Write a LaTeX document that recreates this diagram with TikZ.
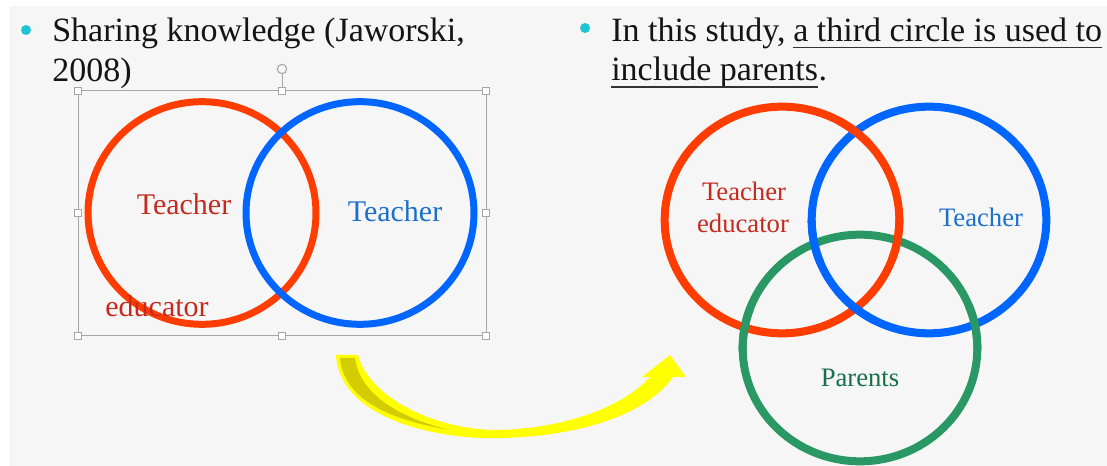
\documentclass[tikz,border=0pt]{standalone}
\usepackage{fontspec}
\setmainfont{Liberation Serif}
\usetikzlibrary{shapes.geometric,positioning}

\definecolor{slidebg}{HTML}{F6F6F6}
\definecolor{bulletcyan}{HTML}{1CC6D6}
\definecolor{ringred}{HTML}{FF3D00}
\definecolor{ringblue}{HTML}{0066FF}
\definecolor{ringgreen}{HTML}{2A9864}
\definecolor{redtxt}{HTML}{C42A1E}
\definecolor{bluetxt}{HTML}{1C70C8}
\definecolor{greentxt}{HTML}{17704A}
\definecolor{selgray}{HTML}{A6A6A6}
\definecolor{arrowyellow}{HTML}{FFFF00}
\definecolor{arrowshade}{HTML}{D2CC00}

\begin{document}
\begin{tikzpicture}[x=0.75pt,y=-0.75pt,
    ring/.style={draw, ellipse, inner sep=0pt, line width=6pt,
      minimum width=176pt, minimum height=170pt},
    smallring/.style={ring, line width=5.25pt,
      minimum width=171pt, minimum height=167pt},
    lap/.style={line width=6pt, x radius=88pt, y radius=85pt},
    handle/.style={draw=selgray, fill=white, inner sep=0pt,
      minimum size=5pt, line width=0.6pt},
    bullet/.style={circle, fill=bulletcyan, inner sep=0pt, minimum size=7.5pt},
    body/.style={anchor=base west, inner sep=0pt,
      font=\fontsize{25.5}{30}\selectfont, text=black!92},
    biglabel/.style={anchor=base, inner sep=0pt, font=\fontsize{22.5}{27}\selectfont},
    label/.style={anchor=base, inner sep=0pt, font=\fontsize{20}{24}\selectfont}]

    \useasboundingbox (0,0) rectangle (1107,466);
    \fill[white] (0,0) rectangle (1107,466);
    \fill[slidebg] (10,6) rectangle (1107,466);

    % left bullet
    \node[bullet] (b1) at (26,30) {};
    \node[body] (s1) at (52,42) {Sharing knowledge (Jaworski,};
    \node[body] (s2) at (52,82) {2008)};

    % right bullet
    \node[bullet] (b2) at (585,28) {};
    \node[body] (t1) at (611,42) {In this study,};
    \node[body] (t2) at (793,42) {a third circle is used to};
    \node[body] (t3) at (611,81) {include parents};
    \node[body, right=0pt of t3.base east, anchor=base west] (t4) {.};
    \draw[black!80, line width=0.9pt] ([yshift=-4pt]t2.base west) -- ([yshift=-4pt]t2.base east);
    \draw[black!80, line width=0.9pt] ([yshift=-4.5pt]t3.base west) -- ([yshift=-4.5pt]t3.base east);

    % selection frame round the old picture
    \draw[selgray, line width=0.75pt] (78,91) rectangle (486,336);
    \node[handle] (hnw) at (78,91) {};
    \node[handle] (hn) at (282,91) {};
    \node[handle] (hne) at (486,91) {};
    \node[handle] (hw) at (78,213) {};
    \node[handle] (he) at (486,213) {};
    \node[handle] (hsw) at (78,336) {};
    \node[handle] (hs) at (282,336) {};
    \node[handle] (hse) at (486,336) {};
    \node[draw=selgray, circle, inner sep=0pt, minimum size=7pt, line width=0.8pt] (rot) at (282,69) {};
    \draw[selgray, line width=0.75pt] (rot.south) -- (hn.north);

    % two circles
    \node[smallring, draw=ringred] (L1) at (202,213) {};
    \node[smallring, draw=ringblue] (L2) at (360,213) {};
    \node[biglabel, text=redtxt] (L1a) at (184,215) {Teacher};
    \node[biglabel, text=redtxt] (L1b) at (157,317) {educator};
    \node[biglabel, text=bluetxt] (L2a) at (395,222) {Teacher};

    % curved arrow
    \fill[arrowyellow] (336,355) .. controls (340,420) and (440,440) .. (500,438)
      .. controls (590,436) and (650,410) .. (673,377) -- (686,377) -- (670,355)
      -- (642,377) -- (650,377) .. controls (620,410) and (560,428) .. (500,430)
      .. controls (440,431) and (370,400) .. (358,355) -- cycle;
    \fill[arrowshade] (340,358) -- (355,358) .. controls (360,395) and (400,418) .. (450,430)
      .. controls (390,420) and (344,400) .. (340,358) -- cycle;

    % three circles, woven
    \node[ring, draw=ringred] (R1) at (782,220) {};
    \node[ring, draw=ringblue] (R2) at (929,220) {};
    \node[ring, draw=ringgreen] (R3) at (860,348) {};
    \draw[lap, ringred] ([shift={(41:88pt and 85pt)}]R1.center) arc[start angle=41, end angle=61];
    \draw[lap, ringblue] ([shift={(219:88pt and 85pt)}]R2.center) arc[start angle=219, end angle=243];
    \draw[lap, ringred] ([shift={(-20:88pt and 85pt)}]R1.center) arc[start angle=-20, end angle=1];
    \draw[lap, ringgreen] ([shift={(159:88pt and 85pt)}]R3.center) arc[start angle=159, end angle=182];
    \draw[lap, ringgreen] ([shift={(-1:88pt and 85pt)}]R3.center) arc[start angle=-1, end angle=22];
    \draw[lap, ringblue] ([shift={(180:88pt and 85pt)}]R2.center) arc[start angle=180, end angle=202];
    \node[label, text=redtxt] (R1a) at (744,201) {Teacher};
    \node[label, text=redtxt] (R1b) at (743,233) {educator};
    \node[label, text=bluetxt] (R2a) at (981,227) {Teacher};
    \node[label, text=greentxt] (R3a) at (860,387) {Parents};
\end{tikzpicture}
\end{document}
